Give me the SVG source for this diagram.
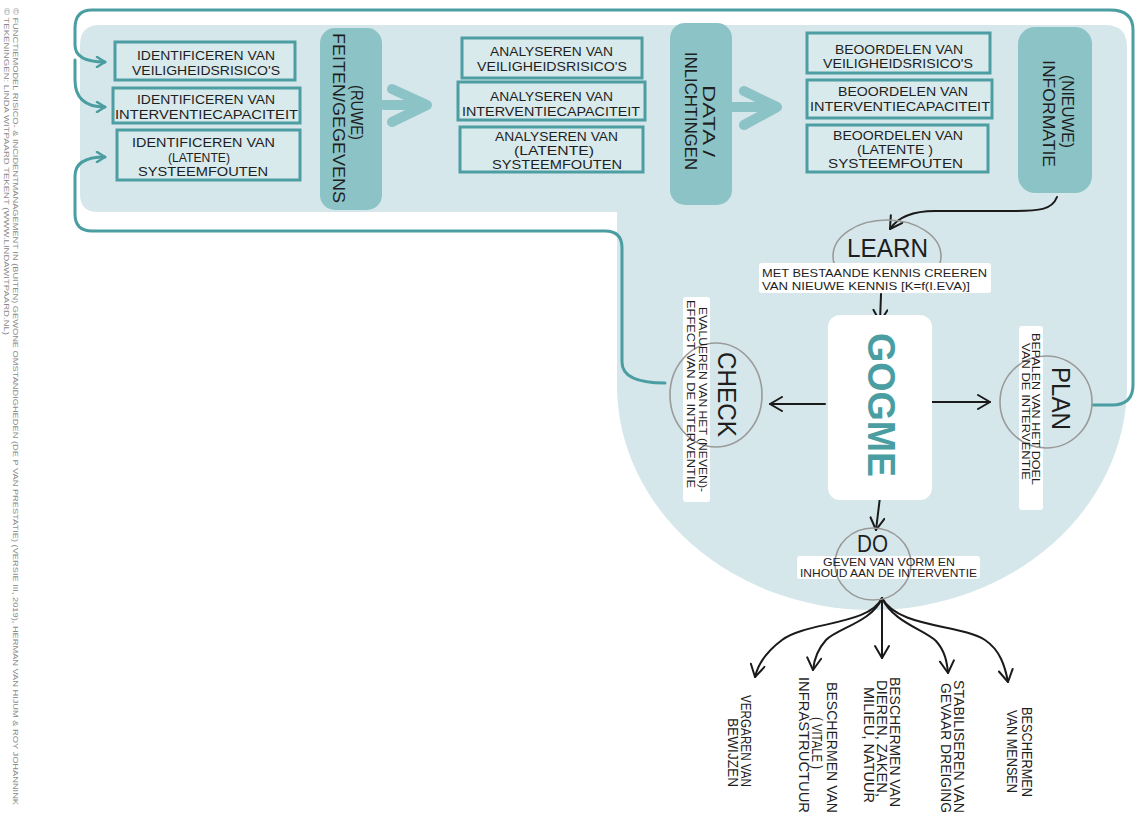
<svg xmlns="http://www.w3.org/2000/svg" width="1136" height="819" viewBox="0 0 1136 819">
<defs>
<style>
.t{font-family:"Liberation Sans","DejaVu Sans",sans-serif;fill:#1e1e1e;}
.bx{font-size:13px;}
.rot{dominant-baseline:central;}
.pill{fill:#8cc3c6;}
.box{fill:#d9eaed;stroke:#4d9ea2;stroke-width:3;}
.teal{fill:none;stroke:#4a9da1;stroke-width:3;stroke-linecap:round;stroke-linejoin:round;}
.blk{fill:none;stroke:#1a1a1a;stroke-width:2;stroke-linecap:round;}
.ell{fill:none;stroke:#9a9a9a;stroke-width:1.6;}
.band{fill:#ffffff;}
.big{fill:none;stroke:#8cc3c6;stroke-width:10;stroke-linecap:round;stroke-linejoin:round;}
.copy{font-family:"Liberation Sans","DejaVu Sans",sans-serif;font-size:8px;fill:#8a8a8a;dominant-baseline:central;}
</style>
<marker id="ta" viewBox="0 0 12 12" refX="10" refY="6" markerWidth="12" markerHeight="12" orient="auto" markerUnits="userSpaceOnUse">
<path d="M2,1 L10,6 L2,11" fill="none" stroke="#4a9da1" stroke-width="2.5" stroke-linecap="round" stroke-linejoin="round"/>
</marker>
<marker id="ba" viewBox="0 0 16 16" refX="14" refY="8" markerWidth="16" markerHeight="16" orient="auto" markerUnits="userSpaceOnUse">
<path d="M2,1 L14,8 L2,15" fill="none" stroke="#1a1a1a" stroke-width="2" stroke-linecap="round" stroke-linejoin="round"/>
</marker>
</defs>
<rect width="1136" height="819" fill="#ffffff"/>

<!-- copyright -->
<g id="copyright">
<text class="copy" transform="translate(15,8) rotate(90)" x="0" y="0" textLength="797" lengthAdjust="spacingAndGlyphs">© FUNCTIEMODEL RISICO- &amp; INCIDENTMANAGEMENT IN (BUITEN) GEWONE OMSTANDIGHEDEN (DE P VAN PRESTATIE) (VERSIE III, 2019), HERMAN VAN HIJUM &amp; ROY JOHANNINK</text>
<text class="copy" transform="translate(6,8) rotate(90)" x="0" y="0" textLength="327" lengthAdjust="spacingAndGlyphs">© TEKENINGEN: LINDA WITPAARD TEKENT (WWW.LINDAWITPAARD.NL)</text>
</g>

<!-- background -->
<path id="background" d="M 100,25 L 1105,25 Q 1127,25 1127,47 L 1127,385 A 255,225 0 0 1 617,385 L 617,212 L 98,212 Q 80,212 80,194 L 80,45 Q 80,25 100,25 Z" fill="#d5e7ea"/>

<g id="connectors">
<path class="teal" d="M 665,383 Q 622,383 622,362 L 622,248 Q 622,231 605,231 L 92,231 Q 75,231 75,214 L 75,176 Q 75,157 105,157" marker-end="url(#ta)"/>
<path class="teal" d="M 1093,405 L 1112,405 Q 1133,405 1133,385 L 1133,30 Q 1133,10 1110,10 L 92,10 Q 75,10 75,28 L 75,45 Q 75,62 105,62" marker-end="url(#ta)"/>
<path class="teal" d="M 75,60 L 75,80 Q 75,107 105,107" marker-end="url(#ta)"/>
<path class="big" d="M 384,105 L 424,105 M 392,89 L 427,105 L 392,122"/>
<path class="big" d="M 729,107 L 774,107 M 744,91 L 777,107 L 744,125"/>
<path class="blk" d="M 1057,197 C 1052,210 1040,211 1010,211 L 935,211 C 912,211 898,217 890,229" marker-end="url(#ba)"/>
<path class="blk" d="M 881,294 L 880,322" marker-end="url(#ba)"/>
<path class="blk" d="M 825,404 L 770,404" marker-end="url(#ba)"/>
<path class="blk" d="M 932,402 L 990,402" marker-end="url(#ba)"/>
<path class="blk" d="M 880,497 L 876,530" marker-end="url(#ba)"/>
<path class="blk" d="M 882,598 C 870,625 805,622 782,640 C 766,652 758,664 755,677" marker-end="url(#ba)"/>
<path class="blk" d="M 882,598 C 872,622 838,628 826,640 C 817,650 814,660 813,670" marker-end="url(#ba)"/>
<path class="blk" d="M 882,598 L 882,658" marker-end="url(#ba)"/>
<path class="blk" d="M 882,598 C 893,622 925,630 936,641 C 945,651 947,662 948,673" marker-end="url(#ba)"/>
<path class="blk" d="M 882,598 C 898,628 960,624 985,640 C 1000,650 1005,666 1008,682" marker-end="url(#ba)"/>
</g>

<!-- column 1 -->
<g id="id-veiligheid">
<rect class="box" x="115" y="42" width="180" height="38"/>
<text class="t bx" x="137" y="60" textLength="138" lengthAdjust="spacingAndGlyphs">IDENTIFICEREN VAN</text>
<text class="t bx" x="132" y="75" textLength="148" lengthAdjust="spacingAndGlyphs">VEILIGHEIDSRISICO'S</text>
</g>
<g id="id-interventie">
<rect class="box" x="113" y="88" width="187" height="35"/>
<text class="t bx" x="137" y="104" textLength="138" lengthAdjust="spacingAndGlyphs">IDENTIFICEREN VAN</text>
<text class="t bx" x="115" y="119" textLength="183" lengthAdjust="spacingAndGlyphs">INTERVENTIECAPACITEIT</text>
</g>
<g id="id-systeem">
<rect class="box" x="117" y="130" width="183" height="50"/>
<text class="t bx" x="132" y="147" textLength="143" lengthAdjust="spacingAndGlyphs">IDENTIFICEREN VAN</text>
<text class="t bx" x="168" y="162" textLength="62" lengthAdjust="spacingAndGlyphs">(LATENTE)</text>
<text class="t bx" x="138" y="176" textLength="130" lengthAdjust="spacingAndGlyphs">SYSTEEMFOUTEN</text>
</g>
<g id="pill-feiten">
<rect class="pill" x="320" y="28" width="62" height="182" rx="15"/>
<text class="t rot" font-size="17" transform="translate(356,85) rotate(90)" textLength="55" lengthAdjust="spacingAndGlyphs">(RUWE)</text>
<text class="t rot" font-size="17" transform="translate(338,33) rotate(90)" textLength="170" lengthAdjust="spacingAndGlyphs">FEITEN/GEGEVENS</text>
</g>

<!-- column 2 -->
<g id="an-veiligheid">
<rect class="box" x="462" y="38" width="180" height="40"/>
<text class="t bx" x="490" y="56" textLength="123" lengthAdjust="spacingAndGlyphs">ANALYSEREN VAN</text>
<text class="t bx" x="477" y="71" textLength="150" lengthAdjust="spacingAndGlyphs">VEILIGHEIDSRISICO'S</text>
</g>
<g id="an-interventie">
<rect class="box" x="458" y="82" width="187" height="38"/>
<text class="t bx" x="490" y="101" textLength="123" lengthAdjust="spacingAndGlyphs">ANALYSEREN VAN</text>
<text class="t bx" x="462" y="116" textLength="178" lengthAdjust="spacingAndGlyphs">INTERVENTIECAPACITEIT</text>
</g>
<g id="an-systeem">
<rect class="box" x="460" y="127" width="183" height="45"/>
<text class="t bx" x="495" y="141" textLength="123" lengthAdjust="spacingAndGlyphs">ANALYSEREN VAN</text>
<text class="t bx" x="514" y="155" textLength="80" lengthAdjust="spacingAndGlyphs">(LATENTE)</text>
<text class="t bx" x="492" y="169" textLength="130" lengthAdjust="spacingAndGlyphs">SYSTEEMFOUTEN</text>
</g>
<g id="pill-data">
<rect class="pill" x="670" y="23" width="62" height="182" rx="15"/>
<text class="t rot" font-size="16" transform="translate(708,85) rotate(90)" textLength="72" lengthAdjust="spacingAndGlyphs">DATA /</text>
<text class="t rot" font-size="16" transform="translate(690,52) rotate(90)" textLength="118" lengthAdjust="spacingAndGlyphs">INLICHTINGEN</text>
</g>

<!-- column 3 -->
<g id="be-veiligheid">
<rect class="box" x="807" y="33" width="183" height="40"/>
<text class="t bx" x="835" y="54" textLength="128" lengthAdjust="spacingAndGlyphs">BEOORDELEN VAN</text>
<text class="t bx" x="823" y="68" textLength="150" lengthAdjust="spacingAndGlyphs">VEILIGHEIDSRISICO'S</text>
</g>
<g id="be-interventie">
<rect class="box" x="807" y="80" width="185" height="38"/>
<text class="t bx" x="838" y="96" textLength="130" lengthAdjust="spacingAndGlyphs">BEOORDELEN VAN</text>
<text class="t bx" x="810" y="111" textLength="180" lengthAdjust="spacingAndGlyphs">INTERVENTIECAPACITEIT</text>
</g>
<g id="be-systeem">
<rect class="box" x="807" y="125" width="181" height="47"/>
<text class="t bx" x="833" y="140" textLength="130" lengthAdjust="spacingAndGlyphs">BEOORDELEN VAN</text>
<text class="t bx" x="857" y="154" textLength="76" lengthAdjust="spacingAndGlyphs">(LATENTE )</text>
<text class="t bx" x="828" y="168" textLength="135" lengthAdjust="spacingAndGlyphs">SYSTEEMFOUTEN</text>
</g>
<g id="pill-informatie">
<rect class="pill" x="1018" y="27" width="74" height="166" rx="17"/>
<text class="t rot" font-size="16" transform="translate(1067,75) rotate(90)" textLength="73" lengthAdjust="spacingAndGlyphs">(NIEUWE)</text>
<text class="t rot" font-size="16" transform="translate(1048,60) rotate(90)" textLength="107" lengthAdjust="spacingAndGlyphs">INFORMATIE</text>
</g>

<!-- LEARN -->
<g id="learn">
<ellipse class="ell" cx="887" cy="256" rx="54" ry="36"/>
<rect class="band" x="759" y="263" width="232" height="30" rx="3"/>
<text class="t" font-size="26" x="847" y="257" textLength="81" lengthAdjust="spacingAndGlyphs">LEARN</text>
<text class="t" font-size="11" x="762" y="277" textLength="225" lengthAdjust="spacingAndGlyphs">MET BESTAANDE KENNIS CREEREN</text>
<text class="t" font-size="11" x="762" y="290" textLength="208" lengthAdjust="spacingAndGlyphs">VAN NIEUWE KENNIS [K=f(I.EVA)]</text>
</g>

<!-- GOGME -->
<g id="gogme">
<rect class="band" x="828" y="315" width="104" height="185" rx="12"/>
<text class="rot" font-family="Liberation Sans, DejaVu Sans, sans-serif" font-size="38" font-weight="bold" fill="#4a9ea2" transform="translate(881,333) rotate(90)" textLength="144" lengthAdjust="spacingAndGlyphs">GOGME</text>
</g>

<!-- CHECK -->
<g id="check">
<rect class="band" x="683" y="297" width="27" height="205" rx="3"/>
<ellipse class="ell" cx="716" cy="395" rx="46" ry="52"/>
<text class="t rot" font-size="26" transform="translate(727,352) rotate(90)" textLength="85" lengthAdjust="spacingAndGlyphs">CHECK</text>
<text class="t rot" font-size="11" transform="translate(703,307) rotate(90)" textLength="185" lengthAdjust="spacingAndGlyphs">EVALUEREN VAN HET (NEVEN)-</text>
<text class="t rot" font-size="11" transform="translate(691,300) rotate(90)" textLength="188" lengthAdjust="spacingAndGlyphs">EFFECT VAN DE INTERVENTIE</text>
</g>

<!-- PLAN -->
<g id="plan">
<rect class="band" x="1019" y="326" width="24" height="184" rx="3"/>
<ellipse class="ell" cx="1046" cy="402" rx="46" ry="46"/>
<text class="t rot" font-size="26" transform="translate(1061,367) rotate(90)" textLength="63" lengthAdjust="spacingAndGlyphs">PLAN</text>
<text class="t rot" font-size="10.5" transform="translate(1036,333) rotate(90)" textLength="152" lengthAdjust="spacingAndGlyphs">BEPALEN VAN HET DOEL</text>
<text class="t rot" font-size="10.5" transform="translate(1026,343) rotate(90)" textLength="137" lengthAdjust="spacingAndGlyphs">VAN DE INTERVENTIE</text>
</g>

<!-- DO -->
<g id="do">
<rect class="band" x="797" y="556" width="183" height="23" rx="3"/>
<ellipse class="ell" cx="873" cy="564" rx="38" ry="36"/>
<text class="t" font-size="24" x="857" y="552" textLength="31" lengthAdjust="spacingAndGlyphs">DO</text>
<text class="t" font-size="11" x="823" y="566" textLength="132" lengthAdjust="spacingAndGlyphs">GEVEN VAN VORM EN</text>
<text class="t" font-size="11" x="800" y="577" textLength="177" lengthAdjust="spacingAndGlyphs">INHOUD AAN DE INTERVENTIE</text>
</g>

<!-- outcomes -->
<g id="out-bewijzen">
<text class="t rot" font-size="14" transform="translate(746,695) rotate(90)" textLength="92" lengthAdjust="spacingAndGlyphs">VERGAREN VAN</text>
<text class="t rot" font-size="14" transform="translate(733,718) rotate(90)" textLength="69" lengthAdjust="spacingAndGlyphs">BEWIJZEN</text>
</g>
<g id="out-infrastructuur">
<text class="t rot" font-size="14" transform="translate(832,682) rotate(90)" textLength="131" lengthAdjust="spacingAndGlyphs">BESCHERMEN VAN</text>
<text class="t rot" font-size="14" transform="translate(817,717) rotate(90)" textLength="52" lengthAdjust="spacingAndGlyphs">( VITALE )</text>
<text class="t rot" font-size="14" transform="translate(804,677) rotate(90)" textLength="136" lengthAdjust="spacingAndGlyphs">INFRASTRUCTUUR</text>
</g>
<g id="out-dieren">
<text class="t rot" font-size="14" transform="translate(895,677) rotate(90)" textLength="130" lengthAdjust="spacingAndGlyphs">BESCHERMEN VAN</text>
<text class="t rot" font-size="14" transform="translate(882,680) rotate(90)" textLength="117" lengthAdjust="spacingAndGlyphs">DIEREN, ZAKEN,</text>
<text class="t rot" font-size="14" transform="translate(869,687) rotate(90)" textLength="116" lengthAdjust="spacingAndGlyphs">MILIEU, NATUUR</text>
</g>
<g id="out-gevaar">
<text class="t rot" font-size="14" transform="translate(959,680) rotate(90)" textLength="133" lengthAdjust="spacingAndGlyphs">STABILISEREN VAN</text>
<text class="t rot" font-size="14" transform="translate(946,683) rotate(90)" textLength="130" lengthAdjust="spacingAndGlyphs">GEVAAR DREIGING</text>
</g>
<g id="out-mensen">
<text class="t rot" font-size="14" transform="translate(1027,707) rotate(90)" textLength="90" lengthAdjust="spacingAndGlyphs">BESCHERMEN</text>
<text class="t rot" font-size="14" transform="translate(1012,710) rotate(90)" textLength="83" lengthAdjust="spacingAndGlyphs">VAN MENSEN</text>
</g>
</svg>
